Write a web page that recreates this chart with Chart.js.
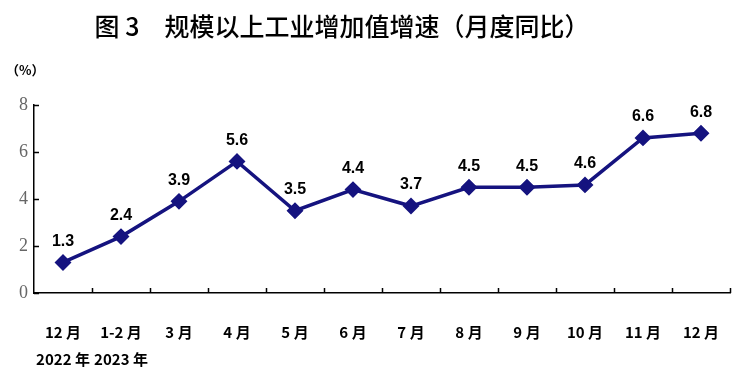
<!DOCTYPE html>
<html>
<head>
<meta charset="utf-8">
<script src="https://cdn.jsdelivr.net/npm/chart.js@4"></script>
<style>
  html, body { margin: 0; padding: 0; background: #fff; }
  #wrap { width: 749px; height: 382px; position: relative; }
</style>
</head>
<body>
<div id="wrap"><canvas id="growth"></canvas></div>
<script>
var months = [["12 月", "2022 年"], ["1-2 月", "2023 年"], "3 月", "4 月", "5 月", "6 月", "7 月", "8 月", "9 月", "10 月", "11 月", "12 月"];
var growth = [1.3, 2.4, 3.9, 5.6, 3.5, 4.4, 3.7, 4.5, 4.5, 4.6, 6.6, 6.8];
var yTicks = [0, 2, 4, 6, 8];

var lineColor = "#15137f";

// title, unit, value labels and inward tick marks
var extras = {
    id: "extras",
    afterDraw: function (chart) {
        var ctx = chart.ctx;
        var area = chart.chartArea;
        ctx.save();

        ctx.fillStyle = "#000";
        ctx.textAlign = "center";
        ctx.textBaseline = "middle";
        ctx.font = "500 25px 'Noto Sans CJK SC'";
        ctx.fillText("图 3　规模以上工业增加值增速（月度同比）", 342, 26);

        ctx.textAlign = "left";
        ctx.font = "bold 13px 'Noto Sans CJK SC'";
        ctx.fillText("（%）", 6, 70);

        // inward ticks
        ctx.strokeStyle = "#000";
        ctx.lineWidth = 1.5;
        var y = chart.scales.y;
        ctx.beginPath();
        yTicks.forEach(function (v) {
            var py = Math.round(y.getPixelForValue(v)) + 0.5;
            ctx.moveTo(area.left, py);
            ctx.lineTo(area.left + 5, py);
        });
        for (var i = 1; i <= months.length; i++) {
            var px = Math.round(area.left + (area.right - area.left) * i / months.length) + 0.5;
            ctx.moveTo(px, area.bottom);
            ctx.lineTo(px, area.bottom - 5);
        }
        ctx.stroke();

        // value labels
        ctx.textAlign = "center";
        ctx.textBaseline = "middle";
        ctx.font = "bold 16px 'Liberation Sans'";
        var meta = chart.getDatasetMeta(0);
        meta.data.forEach(function (pt, i) {
            ctx.fillText(growth[i].toFixed(1), pt.x, pt.y - 21);
        });
        ctx.restore();
    }
};

var ctx = document.getElementById("growth").getContext("2d");
var chart = new Chart(ctx, {
    type: "line",
    data: {
        labels: months,
        datasets: [
            {
                data: growth,
                borderColor: lineColor,
                backgroundColor: lineColor,
                borderWidth: 3.5,
                pointStyle: "rectRot",
                pointRadius: 6,
                pointHoverRadius: 6,
                tension: 0,
            },
        ],
    },
    options: {
        responsive: true,
        maintainAspectRatio: false,
        animation: false,
        events: [],
        layout: { padding: { top: 105, right: 19, left: 0, bottom: 0 } },
        plugins: {
            legend: { display: false },
            tooltip: { enabled: false },
        },
        scales: {
            x: {
                offset: true,
                grid: { display: false },
                border: { display: true, color: "#000", width: 1.5 },
                ticks: {
                    color: "#000",
                    padding: 17,
                    maxRotation: 0,
                    autoSkip: false,
                    font: { family: "'Noto Sans CJK SC'", size: 15, weight: "bold", lineHeight: 1.85 },
                },
                afterFit: function (scale) { scale.height = 89; },
            },
            y: {
                min: 0,
                max: 8,
                grid: { display: false, drawTicks: false },
                border: { display: true, color: "#000", width: 1.5 },
                ticks: {
                    stepSize: 2,
                    color: "#666",
                    padding: 6,
                    font: { family: "'Liberation Serif'", size: 18 },
                },
                afterFit: function (scale) { scale.width = 34; },
            },
        },
    },
    plugins: [extras],
});
</script>
</body>
</html>
